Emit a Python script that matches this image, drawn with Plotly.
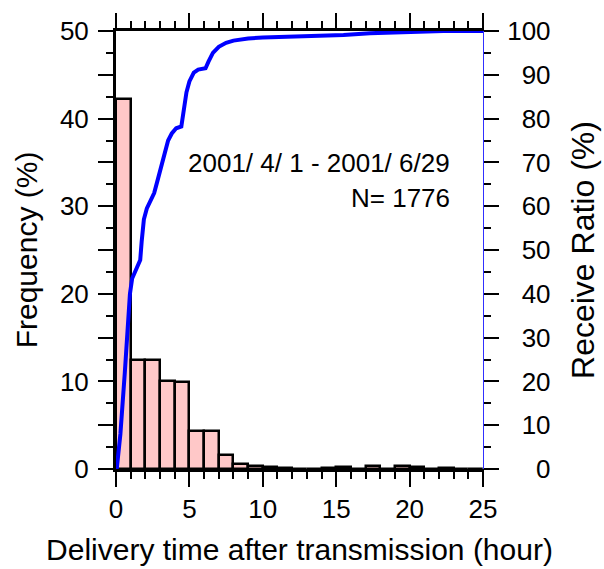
import plotly.graph_objects as go

# Histogram: frequency (%) per 1-hour bin starting at 0 h
bin_start = list(range(25))
freq = [42.2, 12.5, 12.4, 10.0, 9.9, 4.3, 4.3, 1.6, 0.6, 0.4,
        0.2, 0.1, 0.05, 0.05, 0.15, 0.25, 0.05, 0.35, 0.05, 0.4,
        0.2, 0.05, 0.15, 0.05, 0.05]

# Cumulative receive ratio (%)
cum_hour = [0.05, 0.3, 0.6, 0.8, 0.95, 1.1, 1.4, 1.65, 1.75, 1.9, 2.1, 2.3, 2.6,
            2.8, 3.0, 3.3, 3.55, 3.8, 4.1, 4.45, 4.6, 4.8, 5.0, 5.3, 5.6, 6.1,
            6.3, 6.6, 7.0, 7.5, 8.0, 9.0, 10.0, 12.0, 14.5, 15.5, 17.3, 19.6,
            22.3, 25.0]
cum_ratio = [0, 8, 22, 33, 40, 43.5, 46, 47.7, 52, 57, 59.5, 61, 63,
             65.5, 68, 71, 75, 76.6, 77.8, 78.2, 82, 86, 88.5, 90.5, 91.2, 91.5,
             93, 95, 96.4, 97.3, 97.8, 98.3, 98.5, 98.7, 98.8, 99.1, 99.5, 99.7,
             100, 100]

left_ticks = [0, 5, 10, 15, 20, 25, 30, 35, 40, 45, 50]
left_text = ["0", "", "10", "", "20", "", "30", "", "40", "", "50"]
right_ticks = [0, 10, 20, 30, 40, 50, 60, 70, 80, 90, 100]
FS = "\u2007"
right_text = [FS * (3 - len(str(v))) + str(v) for v in right_ticks]

font_family = "Liberation Sans, Arial, sans-serif"
NB = "\u00a0"

fig = go.Figure()
fig.add_trace(go.Bar(
    x=[b + 0.5 for b in bin_start], y=freq, width=1,
    marker=dict(color="rgb(255,200,200)", line=dict(color="black", width=2.5)),
    yaxis="y", showlegend=False))
fig.add_trace(go.Scatter(
    x=cum_hour, y=cum_ratio, mode="lines",
    line=dict(color="#0000ff", width=4), yaxis="y2", showlegend=False))

fig.add_annotation(x=22.9, y=34.9, xref="x", yref="y",
                   text="2001/ 4/ 1 - 2001/ 6/29", showarrow=False,
                   xanchor="right", yanchor="middle",
                   font=dict(size=26, color="black", family=font_family))
fig.add_annotation(x=22.9, y=30.9, xref="x", yref="y",
                   text="N= 1776", showarrow=False,
                   xanchor="right", yanchor="middle",
                   font=dict(size=26, color="black", family=font_family))

fig.update_layout(
    width=604, height=569,
    margin=dict(l=116, r=121, t=31, b=100, autoexpand=False),
    paper_bgcolor="white", plot_bgcolor="white",
    font=dict(family=font_family, color="black", size=26),
    bargap=0,
    xaxis=dict(
        range=[0, 25], tickvals=[0, 5, 10, 15, 20, 25],
        ticks="outside", ticklen=15, tickwidth=2, tickcolor="black",
        minor=dict(dtick=1, ticklen=7, tickwidth=1.5, tickcolor="black", ticks="outside"),
        showline=True, linecolor="black", linewidth=3, mirror="ticks",
        showgrid=False, zeroline=False, automargin=False,
        tickfont=dict(size=26), ticklabelstandoff=0,
        title=dict(text="Delivery time after transmission (hour)",
                   font=dict(size=30), standoff=16),
    ),
    yaxis=dict(
        range=[0, 50], tickvals=left_ticks, ticktext=left_text,
        ticks="outside", ticklen=15, tickwidth=2, tickcolor="black",
        minor=dict(dtick=2.5, ticklen=7, tickwidth=1.5, tickcolor="black", ticks="outside"),
        showline=True, linecolor="black", linewidth=3,
        showgrid=False, zeroline=False, automargin=False,
        tickfont=dict(size=26), ticklabelstandoff=4,
        title=dict(text="Frequency (%)", font=dict(size=30), standoff=14),
    ),
    yaxis2=dict(
        range=[0, 100], overlaying="y", side="right",
        tickvals=right_ticks, ticktext=right_text,
        ticks="outside", ticklen=15, tickwidth=2, tickcolor="black",
        minor=dict(dtick=5, ticklen=7, tickwidth=1.5, tickcolor="black", ticks="outside"),
        showline=True, linecolor="#3030ff", linewidth=1,
        showgrid=False, zeroline=False, automargin=False,
        tickfont=dict(size=26), ticklabelstandoff=3,
        title=dict(text=NB * 3 + "Receive Ratio (%)", font=dict(size=32), standoff=22),
    ),
)

fig.write_html("out.html")
